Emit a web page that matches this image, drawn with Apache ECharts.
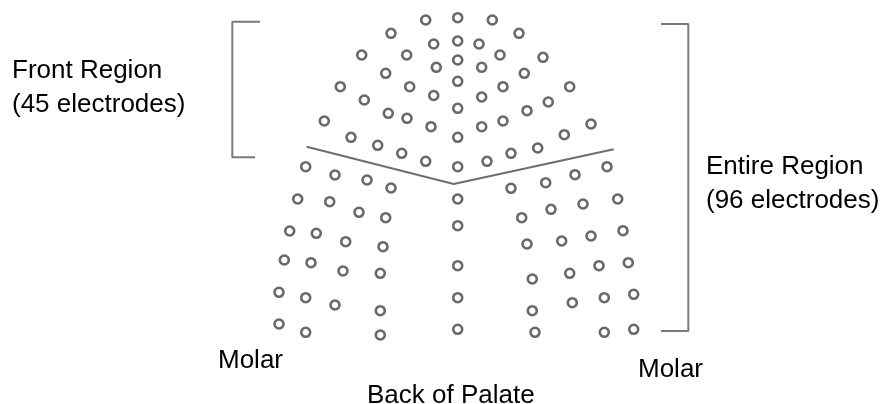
<!DOCTYPE html>
<html>
<head>
<meta charset="utf-8">
<script src="https://cdn.jsdelivr.net/npm/echarts@6/dist/echarts.min.js"></script>
<style>
html,body{margin:0;padding:0;background:#fff;}
#chart{width:885px;height:404px;}
</style>
</head>
<body>
<div id="chart"></div>
<script>
// Electrode positions (picture units: x across, y down)
var frontRegion = [
  [425.7,20],[457.7,17.7],[492.3,20],
  [391,33.3],[519,33.3],
  [433.7,44],[457.7,41],[479,44],
  [361.7,55],[406.7,55],[500,55],[543,57.3],
  [436.3,67.3],[457.7,60],[481.7,67.3],
  [385.7,73.3],[524.3,73.3],
  [340.3,86.7],[409.7,86.7],[457.7,81.3],[503,86.7],[569.7,86.7],
  [433.7,95.5],[481.7,97],
  [364.3,100],[548.3,102],
  [324.3,121],[388.3,113.3],[407,118.3],[457.7,108.3],[527,110.7],
  [431,126.7],[481.7,126.7],[503,121],[591,124],
  [351,137.3],[377.7,145.3],[401.7,153.3],[425.7,161.3],[457.7,137.3],
  [457.7,166.7],[487,161.3],[511,153.3],[537.7,148],[564.3,134.7]
];
var backLeft = [
  [305.7,166.7],[335,175],[367,180],[391,188],
  [297.7,199],[329.7,201.7],[359,212.3],[385.7,217.7],
  [289.7,231],[316.3,233.3],[345.7,241.7],[383,246.7],
  [284.3,260],[311,262.7],[343,271],[380.3,273.3],
  [279,292.3],[305.7,297.7],[335,305],[380.3,310.7],
  [279,324],[305.7,332.3],[380.3,335]
];
var backCenter = [
  [457.7,199],[457.7,225.7],[457.7,265.7],[457.7,297.7],[457.7,329.3]
];
var backRight = [
  [511,188.3],[545.7,182.7],[575,174.7],[607,166.7],
  [521.7,217.7],[551,209.3],[583,204],[617.7,199],
  [527,244],[561.7,241],[591,236],[623,230.7],
  [532.3,279],[569.7,273.3],[599,265.7],[628.3,262.7],
  [532.3,310.7],[572.3,302.7],[604.3,297.7],[633.7,294.3],
  [535,332.3],[604.3,332.3],[633.7,329.3]
];
var divider = [[306.7,146.7],[453.7,184],[613.7,149.3]];
var frontBracket = [[260,21.7],[232.3,21.7],[232.3,157.3],[255,157.3]];
var entireBracket = [[661,24],[688.3,24],[688.3,331],[661,331]];

var labels = {
  front: ['Front Region', '(45 electrodes)'],
  entire: ['Entire Region', '(96 electrodes)'],
  molar: 'Molar',
  back: 'Back of Palate'
};

var chart = echarts.init(document.getElementById('chart'), null, {renderer:'canvas'});
var circleStyle = {color:'#ffffff', borderColor:'#444444', borderWidth:2.6};
function electrodes(data){
  return {type:'scatter', data:data, symbol:'circle', symbolSize:9,
          itemStyle:circleStyle, silent:true, z:3};
}
function path(data, color){
  return {type:'line', data:data, symbol:'none', silent:true,
          lineStyle:{color:color, width:2}, z:2};
}
var font = '26px "Liberation Sans", Arial, sans-serif';
function txt(s, x, y){
  return {type:'text', left:x, top:y - 11, style:{text:s, font:font, fill:'#000'}};
}
chart.setOption({
  animation:false,
  grid:{left:0,right:0,top:0,bottom:0,containLabel:false},
  xAxis:{type:'value',min:0,max:885,show:false},
  yAxis:{type:'value',min:0,max:404,inverse:true,show:false},
  series:[
    path(divider,'#6e6e6e'),
    path(frontBracket,'#7a7a7a'),
    path(entireBracket,'#7a7a7a'),
    electrodes(frontRegion),
    electrodes(backLeft),
    electrodes(backCenter),
    electrodes(backRight)
  ],
  graphic:[
    txt(labels.front[0], 12, 69),
    txt(labels.front[1], 12, 103),
    txt(labels.entire[0], 706, 165),
    txt(labels.entire[1], 706, 199),
    txt(labels.molar, 218, 359),
    txt(labels.molar, 638, 368),
    txt(labels.back, 367, 394)
  ]
});
</script>
</body>
</html>
